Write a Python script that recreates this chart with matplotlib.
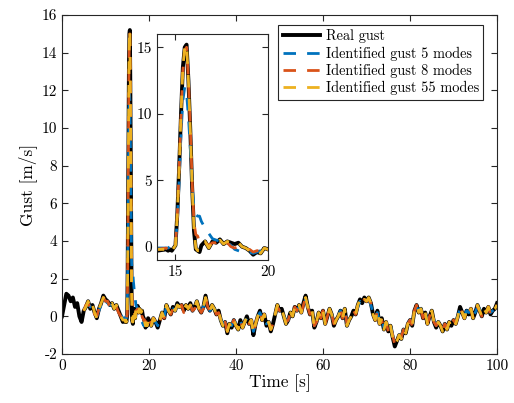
import numpy as np
import matplotlib
matplotlib.use("Agg")
import matplotlib.pyplot as plt

plt.rcParams['font.family'] = 'serif'
plt.rcParams['font.serif'] = ['cmr10']
plt.rcParams['mathtext.fontset'] = 'cm'
plt.rcParams['axes.unicode_minus'] = False

## Time grids: coarse before the gust, fine around the gust, medium just after, coarse after
t_head = np.arange(0, 14.51, 0.5)
t_peak = np.round(np.arange(14.6, 16.41, 0.1), 2)
t_mid = np.round(np.arange(16.6, 20.01, 0.2), 2)
t_tail = np.arange(20.5, 100.01, 0.5)

## Real gust [m/s]
real_head = [0.0, 0.6, 1.2, 1.1, 0.8, 1.0, 0.5, 0.7, 0.0, -0.3,
             0.3, 0.5, 0.8, 0.4, 0.6, 0.2, -0.1, 0.4, 0.7, 1.1,
             0.9, 0.8, 0.6, 0.7, 0.4, 0.6, 0.3, 0.0, -0.3, -0.2]
real_peak = [-0.3, -0.2, -0.3, -0.1, 0.1, 2.5, 6.0, 10.0, 13.5, 15.0,
             15.2, 12.5, 8.8, 4.5, 1.2, -0.2, -0.3, -0.4, 0.1]
real_mid = [0.4, -0.1, 0.4, 0.3, 0.55, 0.2, 0.4, 0.3, 0.2, 0.3,
            0.0, -0.1, -0.3, -0.6, -0.4, -0.5, -0.1, -0.2]
real_tail = [-0.5, -0.1, -0.3, -0.6, -0.2, 0.2, -0.1, 0.6, 0.3,
             0.1, 0.5, 0.3, 0.7, 0.5, 0.6, 0.3, 0.6, 0.4, 0.7,
             0.3, 0.5, 0.8, 0.4, 0.2, 0.5, 1.1, 0.5, 0.3, 0.6,
             0.4, 0.1, 0.3, -0.2, -0.5, -0.3, -0.9, -0.4, -0.6, -0.2,
             -0.5, -0.7, -0.2, -0.6, -0.3, 0.0, -0.4, -0.2, -1.0, -0.4,
             0.0, 0.3, -0.2, 0.1, -0.5, -0.3, -0.8, -0.4, 0.1, 0.6,
             0.3, 0.4, 0.0, -0.4, -0.2, 0.2, 0.0, 0.5, 0.3, 0.6,
             0.2, 0.7, 1.1, 0.5, 0.1, 0.3, -0.6, -0.3, 0.2, -0.1,
             0.3, -0.4, 0.0, 0.4, 0.1, -0.5, -0.2, 0.0, 0.3, -0.1,
             0.4, -0.5, -0.2, 0.0, 0.3, 0.1, 0.6, 0.9, 0.7, 1.0,
             0.8, 1.0, 0.7, 0.1, -0.2, 0.3, -0.4, -0.1, -0.7, -0.3,
             -0.8, -0.5, -1.1, -1.6, -1.3, -1.0, -1.2, -0.7, -0.9, -0.4,
             -0.2, -0.5, 0.3, 0.6, 0.2, 0.4, -0.1, 0.2, -0.4, 0.0,
             0.3, -0.3, -0.6, -0.3, -0.5, -0.8, -0.4, -0.7, -0.3, -0.5,
             -0.2, -0.4, 0.0, 0.5, 0.2, -0.1, 0.3, 0.1, 0.4, -0.1,
             0.2, 0.6, 0.3, 0.0, 0.4, 0.2, 0.5, 0.1, 0.3, 0.4,
             0.7]

## Identified gusts start at t = 5 s
id_head_t = t_head[10:]
m5_head = [0.4, 0.5, 0.7, 0.5, 0.5, 0.3, 0.0, 0.3, 0.6, 1.0,
           0.8, 0.7, 0.6, 0.6, 0.5, 0.5, 0.3, 0.1, -0.1, -0.1]
m5_peak = [-0.1, 0.0, -0.1, 0.0, 0.2, 2.0, 5.0, 8.5, 11.0, 12.0,
           11.5, 9.8, 7.4, 4.6, 2.9, 2.4, 2.3, 2.3, 1.9]
m5_mid = [1.4, 1.0, 0.6, 0.5, 0.4, 0.3, 0.3, 0.1, -0.2, -0.3,
          -0.4, -0.5, -0.4, -0.5, -0.4, -0.3, -0.1, -0.3]
m5_tail = [-0.4, -0.2, -0.3, -0.5, -0.2, 0.1, 0.0, 0.5, 0.3,
           0.2, 0.4, 0.3, 0.6, 0.5, 0.5, 0.4, 0.5, 0.4, 0.6,
           0.3, 0.5, 0.7, 0.4, 0.3, 0.5, 0.9, 0.5, 0.3, 0.5,
           0.4, 0.2, 0.2, -0.2, -0.4, -0.3, -0.7, -0.4, -0.5, -0.2,
           -0.4, -0.6, -0.3, -0.5, -0.3, -0.1, -0.3, -0.2, -0.8, -0.4,
           0.0, 0.2, -0.1, 0.1, -0.4, -0.3, -0.6, -0.4, 0.1, 0.5,
           0.3, 0.4, 0.1, -0.3, -0.2, 0.2, 0.1, 0.4, 0.3, 0.5,
           0.3, 0.6, 0.9, 0.5, 0.2, 0.2, -0.5, -0.3, 0.1, 0.0,
           0.2, -0.3, 0.0, 0.3, 0.1, -0.4, -0.2, 0.0, 0.3, 0.0,
           0.3, -0.4, -0.2, 0.0, 0.2, 0.2, 0.5, 0.8, 0.7, 0.9,
           0.8, 0.9, 0.6, 0.2, -0.1, 0.2, -0.3, -0.1, -0.6, -0.3,
           -0.7, -0.5, -1.0, -1.4, -1.2, -1.0, -1.1, -0.7, -0.8, -0.4,
           -0.2, -0.4, 0.2, 0.5, 0.3, 0.4, 0.0, 0.2, -0.3, 0.0,
           0.2, -0.2, -0.5, -0.3, -0.4, -0.7, -0.4, -0.6, -0.3, -0.4,
           -0.2, -0.3, 0.0, 0.4, 0.2, 0.0, 0.3, 0.2, 0.4, 0.0,
           0.2, 0.5, 0.4, 0.1, 0.3, 0.2, 0.4, 0.2, 0.3, 0.4,
           0.6]

m8_head = [0.3, 0.6, 0.7, 0.4, 0.5, 0.1, 0.0, 0.4, 0.7, 1.0,
           0.8, 0.8, 0.5, 0.6, 0.4, 0.5, 0.2, 0.0, -0.2, -0.1]
m8_peak = [-0.2, -0.2, -0.2, 0.0, 0.1, 2.4, 5.9, 9.8, 13.3, 14.8,
           15.0, 12.6, 9.0, 4.9, 1.8, 0.9, 0.8, 0.3, 0.2]
m8_mid = [0.3, 0.1, 0.3, 0.3, 0.4, 0.2, 0.3, 0.0, -0.1, 0.0,
          -0.1, -0.2, -0.2, -0.4, -0.3, -0.3, 0.0, -0.2]
m8_tail = [-0.4, -0.1, -0.3, -0.5, -0.3, 0.1, -0.1, 0.5, 0.3,
           0.1, 0.4, 0.3, 0.6, 0.5, 0.6, 0.2, 0.5, 0.4, 0.6,
           0.3, 0.4, 0.8, 0.4, 0.2, 0.4, 1.0, 0.5, 0.3, 0.5,
           0.4, 0.1, 0.2, -0.2, -0.5, -0.3, -0.8, -0.4, -0.5, -0.2,
           -0.5, -0.6, -0.2, -0.6, -0.3, 0.0, -0.4, -0.2, -0.9, -0.4,
           0.0, 0.3, -0.2, 0.1, -0.4, -0.3, -0.7, -0.4, 0.1, 0.5,
           0.3, 0.4, 0.0, -0.3, -0.2, 0.2, 0.0, 0.5, 0.3, 0.6,
           0.2, 0.6, 1.0, 0.5, 0.1, 0.3, -0.5, -0.3, 0.2, -0.1,
           0.3, -0.4, 0.0, 0.4, 0.1, -0.4, -0.2, 0.0, 0.3, -0.1,
           0.4, -0.4, -0.2, 0.0, 0.3, 0.1, 0.6, 0.8, 0.7, 0.9,
           0.8, 0.9, 0.7, 0.1, -0.2, 0.3, -0.4, -0.2, -0.7, -0.3,
           -0.8, -0.5, -1.0, -1.5, -1.3, -1.0, -1.1, -0.7, -0.9, -0.4,
           -0.2, -0.5, 0.3, 0.6, 0.2, 0.4, -0.1, 0.2, -0.4, 0.0,
           0.3, -0.3, -0.5, -0.3, -0.5, -0.7, -0.4, -0.6, -0.3, -0.5,
           -0.2, -0.4, 0.0, 0.4, 0.2, -0.1, 0.3, 0.1, 0.4, -0.1,
           0.2, 0.5, 0.3, 0.0, 0.4, 0.2, 0.5, 0.1, 0.3, 0.4,
           0.6]

m55_head = [0.3, 0.5, 0.8, 0.4, 0.6, 0.2, -0.1, 0.4, 0.7, 1.0,
            0.9, 0.7, 0.6, 0.7, 0.4, 0.6, 0.3, 0.0, -0.2, -0.2]
m55_peak = [-0.3, -0.2, -0.3, -0.1, 0.1, 2.5, 6.0, 10.0, 13.5, 15.0,
            15.2, 12.5, 8.8, 4.5, 1.3, -0.1, -0.3, -0.3, 0.1]
m55_mid = [0.4, -0.1, 0.4, 0.3, 0.5, 0.2, 0.4, 0.3, 0.2, 0.3,
           0.0, -0.1, -0.3, -0.5, -0.4, -0.5, -0.1, -0.2]
m55_tail = [-0.5, -0.1, -0.3, -0.5, -0.2, 0.2, -0.1, 0.6, 0.3,
            0.1, 0.5, 0.3, 0.6, 0.5, 0.6, 0.3, 0.6, 0.4, 0.6,
            0.3, 0.5, 0.8, 0.4, 0.2, 0.5, 1.0, 0.5, 0.3, 0.6,
            0.4, 0.1, 0.3, -0.2, -0.5, -0.3, -0.8, -0.4, -0.6, -0.2,
            -0.5, -0.7, -0.2, -0.6, -0.3, 0.0, -0.4, -0.2, -0.9, -0.4,
            0.0, 0.3, -0.2, 0.1, -0.5, -0.3, -0.7, -0.4, 0.1, 0.6,
            0.3, 0.4, 0.0, -0.4, -0.2, 0.2, 0.0, 0.5, 0.3, 0.6,
            0.2, 0.7, 1.0, 0.5, 0.1, 0.3, -0.6, -0.3, 0.2, -0.1,
            0.3, -0.4, 0.0, 0.4, 0.1, -0.5, -0.2, 0.0, 0.3, -0.1,
            0.4, -0.5, -0.2, 0.0, 0.3, 0.1, 0.6, 0.9, 0.7, 0.9,
            0.8, 1.0, 0.7, 0.1, -0.2, 0.3, -0.4, -0.1, -0.7, -0.3,
            -0.8, -0.5, -1.1, -1.5, -1.3, -1.0, -1.2, -0.7, -0.9, -0.4,
            -0.2, -0.5, 0.3, 0.6, 0.2, 0.4, -0.1, 0.2, -0.4, 0.0,
            0.3, -0.3, -0.6, -0.3, -0.5, -0.8, -0.4, -0.7, -0.3, -0.5,
            -0.2, -0.4, 0.0, 0.5, 0.2, -0.1, 0.3, 0.1, 0.4, -0.1,
            0.2, 0.6, 0.3, 0.0, 0.4, 0.2, 0.5, 0.1, 0.3, 0.4,
            0.6]

labels = ["Real gust", "Identified gust 5 modes",
          "Identified gust 8 modes", "Identified gust 55 modes"]
colors = ["black", (0, 0.447, 0.741), (0.85, 0.325, 0.098), (0.929, 0.694, 0.125)]

t_real = np.concatenate([t_head, t_peak, t_mid, t_tail])
t_id = np.concatenate([id_head_t, t_peak, t_mid, t_tail])
series = [(t_real, real_head + real_peak + real_mid + real_tail),
          (t_id, m5_head + m5_peak + m5_mid + m5_tail),
          (t_id, m8_head + m8_peak + m8_mid + m8_tail),
          (t_id, m55_head + m55_peak + m55_mid + m55_tail)]

axcol = (0.15, 0.15, 0.15)

def style(ax):
    for s in ax.spines.values():
        s.set_color(axcol)
        s.set_linewidth(0.8)
    ax.tick_params(direction='in', top=True, right=True, colors=axcol,
                   labelcolor='black', labelsize=11, length=4, width=0.8)

def draw(ax):
    for i, (t, y) in enumerate(series):
        if i == 0:
            ax.plot(t, y, color=colors[i], lw=2.8, label=labels[i])
        else:
            ax.plot(t, y, color=colors[i], lw=2.0, ls=(0, (4.5, 4)), label=labels[i])

fig = plt.figure(figsize=(5.14, 4.03), dpi=100)
ax = fig.add_axes([0.1206, 0.1216, 0.8464, 0.8412])
draw(ax)
ax.set_xlim(0, 100)
ax.set_ylim(-2, 16)
ax.set_xticks([0, 20, 40, 60, 80, 100])
ax.set_yticks(range(-2, 17, 2))
ax.set_xlabel("Time [s]", fontsize=12.5, labelpad=1)
ax.set_ylabel("Gust [m/s]", fontsize=12.5, labelpad=3)
style(ax)
leg = ax.legend(loc='upper right', bbox_to_anchor=(0.968, 0.9705), borderaxespad=0,
                fontsize=10.3, fancybox=False, edgecolor=axcol, framealpha=1,
                handlelength=2.6, handletextpad=0.4, labelspacing=0.22,
                borderpad=0.3)
leg.get_frame().set_linewidth(0.8)

axin = fig.add_axes([0.3054, 0.3548, 0.216, 0.5608])
draw(axin)
axin.set_xlim(14, 20)
axin.set_ylim(-1, 16)
axin.set_xticks([15, 20])
axin.set_yticks([0, 5, 10, 15])
style(axin)

fig.savefig("out.png", dpi=100)
